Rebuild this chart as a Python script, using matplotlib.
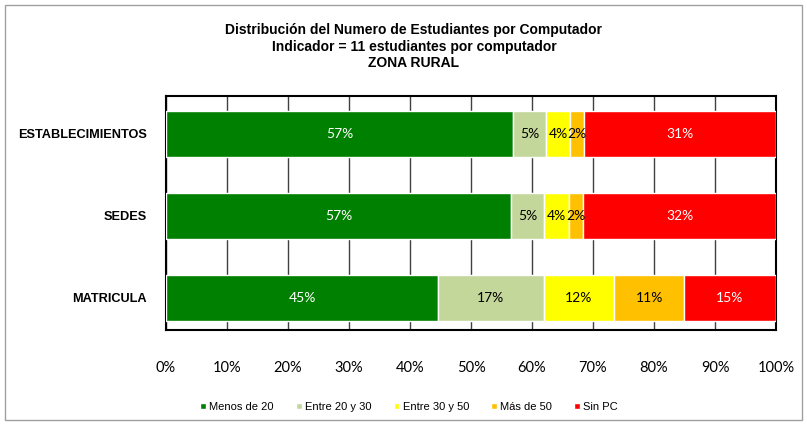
import matplotlib.pyplot as plt
from matplotlib.patches import Rectangle
import numpy as np

# categorias (de abajo hacia arriba)
categorias = ['MATRICULA', 'SEDES', 'ESTABLECIMIENTOS']
series = ['Menos de 20', 'Entre 20 y 30', 'Entre 30 y 50', 'Más de 50', 'Sin PC']
colores = ['#008000', '#C4D79B', '#FFFF00', '#FFC000', '#FF0000']
color_texto = ['white', 'black', 'black', 'black', 'white']

# porcentajes por serie: MATRICULA, SEDES, ESTABLECIMIENTOS
menos_20 = [44.6, 56.6, 56.9]
entre_20_30 = [17.3, 5.4, 5.4]
entre_30_50 = [11.6, 4.1, 3.9]
mas_50 = [11.4, 2.3, 2.4]
sin_pc = [15.1, 31.6, 31.4]
valores = [menos_20, entre_20_30, entre_30_50, mas_50, sin_pc]

titulo = ('Distribución del Numero de Estudiantes por Computador\n'
          'Indicador = 11 estudiantes por computador\n'
          'ZONA RURAL')

fig = plt.figure(figsize=(8.07, 4.25), dpi=100)
ax = fig.add_axes([166 / 807, 1 - 330 / 425, 610 / 807, 234 / 425])

y = np.arange(len(categorias))
izq = np.zeros(len(categorias))
for nombre, vals, col, ct in zip(series, valores, colores, color_texto):
    vals = np.array(vals)
    bars = ax.barh(y, vals, left=izq, height=0.56, color=col,
                   edgecolor='white', linewidth=1, label=nombre, zorder=3)
    for b, v in zip(bars, vals):
        ax.text(b.get_x() + b.get_width() / 2, b.get_y() + b.get_height() / 2,
                f'{v:.0f}%', ha='center', va='center', color=ct,
                fontsize=10, family=['Lato', 'DejaVu Sans'], zorder=4)
    izq += vals

ax.set_xlim(0, 100)
ax.set_ylim(-0.39, 2.46)
ax.set_xticks(np.arange(0, 101, 10))
ax.set_xticklabels([f'{t}%' for t in range(0, 101, 10)],
                   fontsize=10.5, family=['Lato', 'DejaVu Sans'])
ax.set_yticks(y)
ax.set_yticklabels(categorias, fontsize=9.2, fontweight='bold',
                   family=['Liberation Sans Narrow', 'Liberation Sans'])
ax.tick_params(axis='x', length=0, pad=22)
ax.tick_params(axis='y', length=0, pad=14)
ax.grid(axis='x', color='#404040', linewidth=1, zorder=0)
for s in ax.spines.values():
    s.set_color('black')
    s.set_linewidth(1.5)

fig.text(0.513, 0.945, titulo, ha='center', va='top', fontsize=10,
         fontweight='bold', linespacing=1.2,
         family=['Liberation Sans Narrow', 'Liberation Sans'])

fig.legend(loc='center', bbox_to_anchor=(0.507, 0.042), ncol=5, frameon=False,
           handlelength=0.5, handleheight=0.5, handletextpad=0.3,
           columnspacing=2.0,
           prop={'family': ['Liberation Sans Narrow', 'Liberation Sans'], 'size': 8})

fig.patches.append(Rectangle((5 / 807, 5 / 425), 797 / 807, 415 / 425,
                             transform=fig.transFigure, fill=False,
                             edgecolor='#a0a0a0', linewidth=1))

plt.savefig('out.png', dpi=100)
